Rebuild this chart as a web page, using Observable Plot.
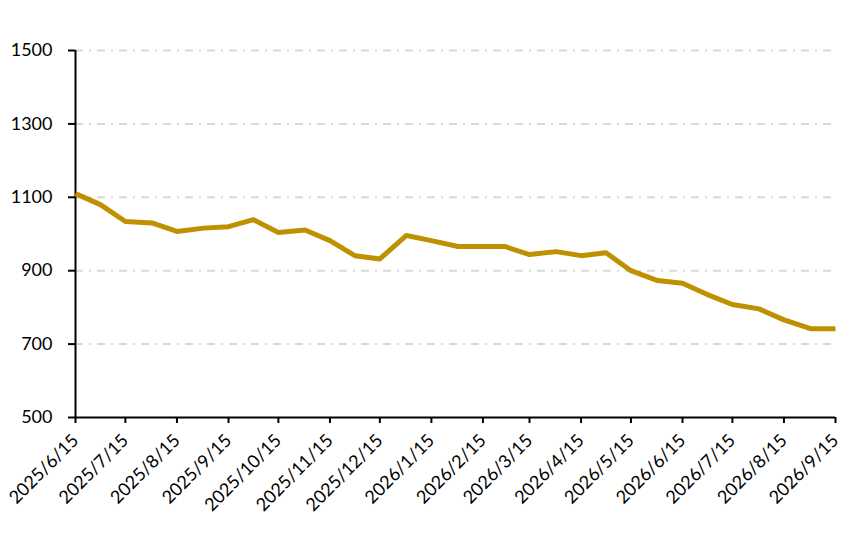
<!DOCTYPE html>
<html><head><meta charset="utf-8">
<script src="https://cdn.jsdelivr.net/npm/d3@7"></script>
<script src="https://cdn.jsdelivr.net/npm/@observablehq/plot@0.6"></script>
<style>body{margin:0;background:#fff}</style>
</head><body><div id="chart"></div>
<script>
const dates = ["2025-06-15","2025-06-30","2025-07-15","2025-07-31","2025-08-15","2025-08-31","2025-09-15","2025-09-30","2025-10-15","2025-10-31","2025-11-15","2025-11-30","2025-12-15","2025-12-31","2026-01-15","2026-01-31","2026-02-15","2026-02-28","2026-03-15","2026-03-31","2026-04-15","2026-04-30","2026-05-15","2026-05-31","2026-06-15","2026-06-30","2026-07-15","2026-07-31","2026-08-15","2026-08-31","2026-09-15"];
const values = [1110,1080,1034,1030,1007,1016,1020,1039,1004,1011,982,941,932,996,982,966,966,966,944,952,941,949,900,873,866,835,808,796,766,742,742];
const xTickDates = ["2025-06-15","2025-07-15","2025-08-15","2025-09-15","2025-10-15","2025-11-15","2025-12-15","2026-01-15","2026-02-15","2026-03-15","2026-04-15","2026-05-15","2026-06-15","2026-07-15","2026-08-15","2026-09-15"];
const yTicks = [500,700,900,1100,1300,1500];

const data = dates.map((d, i) => ({date: new Date(d), value: values[i]}));
const xTicks = xTickDates.map(d => new Date(d));
const fmt = d => `${d.getUTCFullYear()}/${d.getUTCMonth() + 1}/${d.getUTCDate()}`;
const x0 = xTicks[0], x1 = xTicks[xTicks.length - 1];

const chart = Plot.plot({
  width: 865,
  height: 534,
  marginLeft: 75,
  marginRight: 30,
  marginTop: 50,
  marginBottom: 117,
  style: {fontFamily: "Lato, 'Open Sans', sans-serif", fontSize: "18px", color: "#000", background: "#fff"},
  x: {type: "utc", domain: [x0, x1]},
  y: {domain: [500, 1500]},
  marks: [
    Plot.gridY(yTicks.filter(v => v > 500), {stroke: "#d9d9d9", strokeOpacity: 1, strokeWidth: 2, strokeDasharray: "8,6,2,6"}),
    Plot.axisY({ticks: yTicks, tickFormat: d => String(d), tickSize: 7, tickPadding: 16, strokeWidth: 2, stroke: "#000", fontSize: 18, label: null}),
    Plot.axisX({ticks: xTicks, tickFormat: fmt, tickSize: 6, tickPadding: 14, tickRotate: -45, strokeWidth: 2, stroke: "#000", fontSize: 18, label: null}),
    Plot.ruleX([x0], {stroke: "#000", strokeWidth: 2}),
    Plot.ruleY([500], {stroke: "#000", strokeWidth: 2}),
    Plot.line(data, {x: "date", y: "value", stroke: "#bf9000", strokeWidth: 5, strokeLinecap: "butt", strokeLinejoin: "round"})
  ]
});
document.getElementById("chart").appendChild(chart);
</script>
</body></html>
